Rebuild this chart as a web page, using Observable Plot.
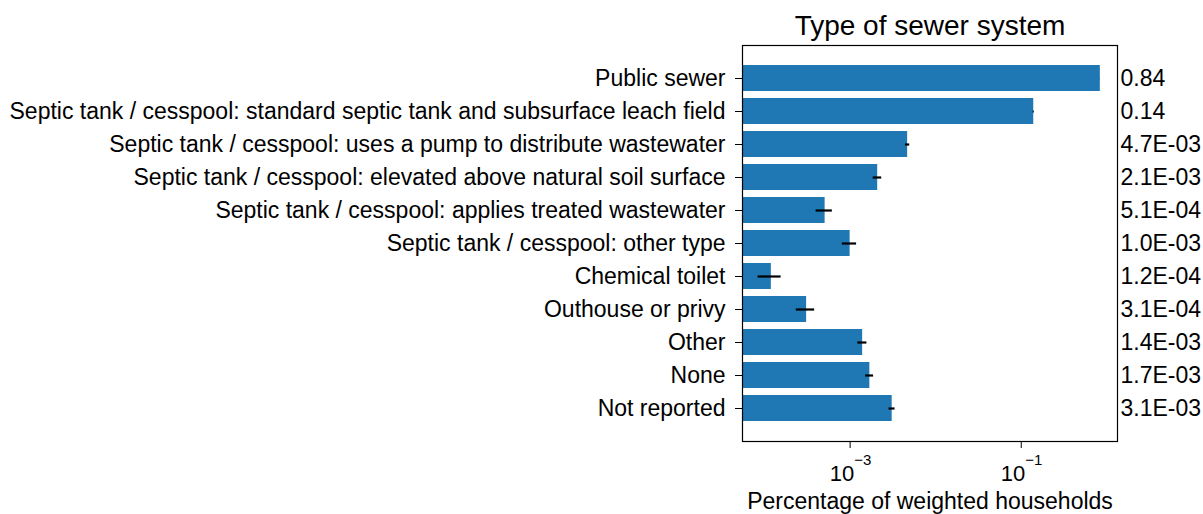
<!DOCTYPE html>
<html>
<head>
<meta charset="utf-8">
<script src="https://cdn.jsdelivr.net/npm/d3@7"></script>
<script src="https://cdn.jsdelivr.net/npm/@observablehq/plot@0.6"></script>
<style>
  html, body { margin: 0; padding: 0; background: #fff; }
  #chart { width: 1203px; height: 514px; }
  svg { font-family: "Liberation Sans", Arial, sans-serif; }
</style>
</head>
<body>
<div id="chart"></div>
<script>
const categories = [
  "Public sewer",
  "Septic tank / cesspool: standard septic tank and subsurface leach field",
  "Septic tank / cesspool: uses a pump to distribute wastewater",
  "Septic tank / cesspool: elevated above natural soil surface",
  "Septic tank / cesspool: applies treated wastewater",
  "Septic tank / cesspool: other type",
  "Chemical toilet",
  "Outhouse or privy",
  "Other",
  "None",
  "Not reported"
];
const values = [0.84, 0.14, 4.7e-3, 2.1e-3, 5.1e-4, 1.0e-3, 1.2e-4, 3.1e-4, 1.4e-3, 1.7e-3, 3.1e-3];
const errors = [0.002, 0.002, 2.7e-4, 2.4e-4, 1.1e-4, 1.9e-4, 3.6e-5, 7.5e-5, 1.7e-4, 1.8e-4, 2.5e-4];
const valueLabels = ["0.84", "0.14", "4.7E-03", "2.1E-03", "5.1E-04", "1.0E-03", "1.2E-04", "3.1E-04", "1.4E-03", "1.7E-03", "3.1E-03"];
const xTicks = [1e-3, 1e-1];
const xTickBase = ["10", "10"];
const xTickExp = ["\u22123", "\u22121"];
const title = "Type of sewer system";
const xLabel = "Percentage of weighted households";

const xDomain = [Math.pow(10, -4.258), Math.pow(10, 0.125)];

const data = categories.map((c, i) => ({
  cat: c, value: values[i], err: errors[i], label: valueLabels[i]
}));
const tickData = xTicks.map((t, i) => ({ t, base: xTickBase[i], exp: xTickExp[i] }));

const chart = Plot.plot({
  width: 1203,
  height: 514,
  marginLeft: 742,
  marginRight: 86,
  marginTop: 45,
  marginBottom: 73,
  style: { fontFamily: '"Liberation Sans", Arial, sans-serif', fontSize: "23px", color: "#000", background: "#fff" },
  x: { type: "log", domain: xDomain },
  y: { type: "band", domain: categories, paddingInner: 0.2, paddingOuter: 0.54 },
  marks: [
    Plot.barX(data, { y: "cat", x1: xDomain[0], x2: "value", fill: "#1f77b4" }),
    Plot.ruleY(data, { y: "cat", x1: d => d.value - d.err, x2: d => d.value + d.err, stroke: "#000", strokeWidth: 2.2 }),
    Plot.text(data, { y: "cat", text: "label", frameAnchor: "right", textAnchor: "start", dx: 3, fontSize: 23, fill: "#000" }),
    Plot.frame({ stroke: "#000", strokeWidth: 1.2 }),
    Plot.axisY({ tickSize: 7, tickPadding: 10, fontSize: 23, label: null, stroke: "#000" }),
    Plot.axisX({ ticks: xTicks, tickFormat: () => "", tickSize: 7, label: null }),
    Plot.text(tickData, { x: "t", text: "base", frameAnchor: "bottom", lineAnchor: "bottom", textAnchor: "end", dy: 39, dx: 4, fontSize: 22, fill: "#000" }),
    Plot.text(tickData, { x: "t", text: "exp", frameAnchor: "bottom", lineAnchor: "bottom", textAnchor: "start", dy: 23, dx: 4, fontSize: 15, fill: "#000" }),
    Plot.text([xLabel], { frameAnchor: "bottom", lineAnchor: "bottom", dy: 67, text: d => d, fontSize: 23, fill: "#000" }),
    Plot.text([title], { frameAnchor: "top", lineAnchor: "bottom", dy: -11, text: d => d, fontSize: 28, fill: "#000" })
  ]
});
document.getElementById("chart").appendChild(chart);
</script>
</body>
</html>
